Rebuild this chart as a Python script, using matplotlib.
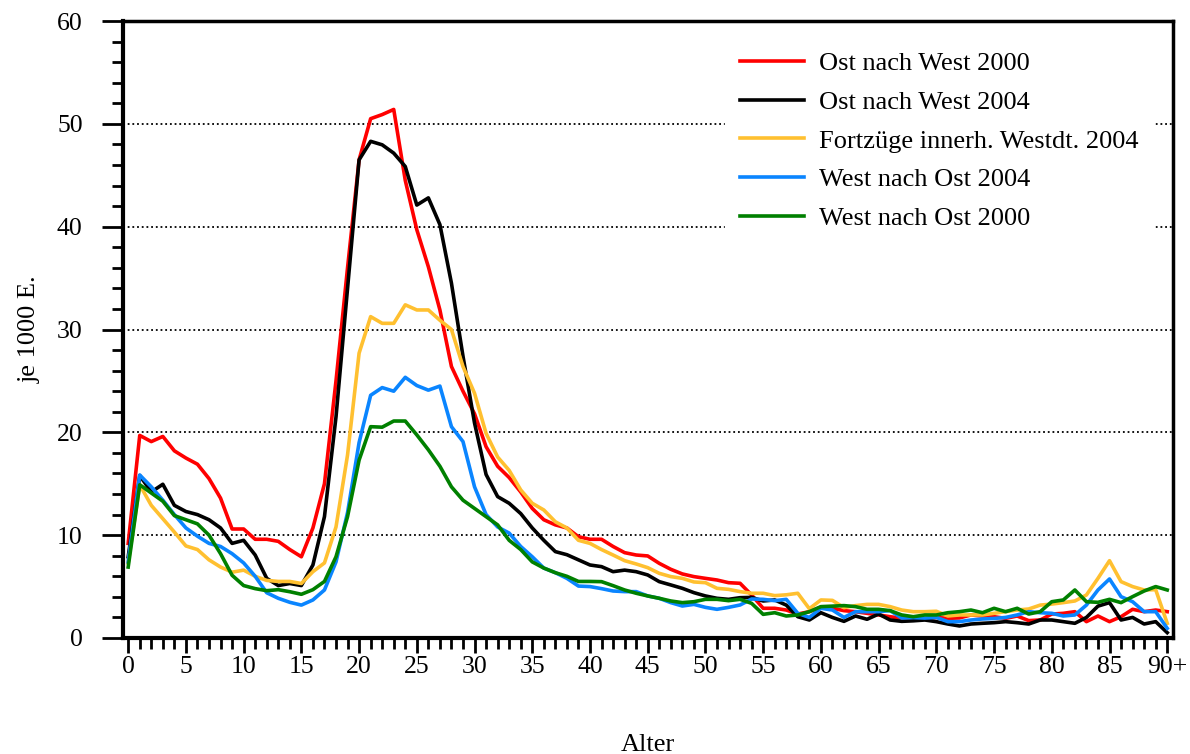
import matplotlib
matplotlib.use("Agg")
import matplotlib.pyplot as plt
import numpy as np

plt.rcParams['font.family'] = ['Liberation Serif', 'DejaVu Serif']

ages = list(range(0, 91))

ost_west_2000 = [9.2, 19.7, 19.1, 19.6, 18.2, 17.5, 16.9, 15.5, 13.6, 10.6,
                 10.6, 9.6, 9.6, 9.4, 8.6, 7.9, 10.7, 15.0, 25.0, 36.0,
                 46.5, 50.5, 50.9, 51.4, 44.5, 39.7, 36.1, 31.9, 26.4, 24.0,
                 21.8, 18.6, 16.7, 15.6, 14.2, 12.6, 11.5, 11.0, 10.7, 9.85,
                 9.6, 9.6, 8.9, 8.3, 8.07, 7.98, 7.26, 6.68, 6.23, 5.97,
                 5.8, 5.64, 5.38, 5.32, 4.18, 2.89, 2.89, 2.72, 2.33, 2.56,
                 3.0, 2.89, 2.66, 2.56, 2.4, 2.24, 2.07, 1.91, 1.85, 1.82,
                 2.0, 1.91, 1.95, 2.24, 2.14, 2.07, 1.91, 2.14, 1.69, 1.75,
                 2.33, 2.4, 2.56, 1.59, 2.14, 1.59, 2.07, 2.79, 2.56, 2.72,
                 2.56]

ost_west_2004 = [7.9, 15.8, 14.2, 14.95, 12.9, 12.3, 12.0, 11.5, 10.7, 9.2,
                 9.5, 8.07, 5.8, 5.1, 5.3, 5.1, 7.1, 11.8, 21.5, 34.0,
                 46.5, 48.3, 47.96, 47.15, 45.85, 42.1, 42.8, 40.2, 34.5, 27.4,
                 20.9, 15.9, 13.75, 13.1, 12.1, 10.7, 9.5, 8.4, 8.1, 7.6,
                 7.1, 6.94, 6.45, 6.6, 6.45, 6.13, 5.48, 5.16, 4.83, 4.41,
                 4.09, 3.86, 3.76, 3.92, 3.95, 3.6, 3.7, 3.2, 2.07, 1.75,
                 2.46, 2.0, 1.62, 2.14, 1.82, 2.33, 1.75, 1.62, 1.67, 1.75,
                 1.59, 1.36, 1.17, 1.36, 1.43, 1.49, 1.59, 1.49, 1.36, 1.75,
                 1.75, 1.59, 1.43, 2.0, 3.1, 3.44, 1.75, 2.0, 1.36, 1.59,
                 0.52]

fortzuege_west_2004 = [7.3, 14.9, 12.9, 11.6, 10.3, 8.95, 8.6, 7.6, 6.9, 6.4,
                       6.6, 6.0, 5.6, 5.5, 5.5, 5.3, 6.45, 7.3, 10.8, 17.8,
                       27.7, 31.25, 30.6, 30.6, 32.4, 31.9, 31.9, 30.9, 30.0, 26.4,
                       23.8, 19.9, 17.6, 16.3, 14.4, 13.1, 12.45, 11.3, 10.7, 9.5,
                       9.2, 8.6, 8.07, 7.52, 7.2, 6.84, 6.29, 5.97, 5.8, 5.45,
                       5.38, 4.83, 4.73, 4.51, 4.35, 4.35, 4.12, 4.2, 4.35, 2.85,
                       3.7, 3.66, 2.95, 3.15, 3.27, 3.27, 3.05, 2.72, 2.56, 2.56,
                       2.6, 2.14, 2.24, 2.24, 2.24, 2.4, 2.56, 2.72, 2.82, 3.2,
                       3.3, 3.44, 3.6, 4.18, 5.8, 7.52, 5.48, 5.0, 4.67, 4.7,
                       1.43]

west_ost_2004 = [7.4, 15.85, 14.7, 13.4, 12.0, 10.7, 9.9, 9.2, 8.9, 8.2,
                 7.3, 6.0, 4.4, 3.86, 3.47, 3.2, 3.7, 4.67, 7.4, 12.2,
                 19.0, 23.6, 24.35, 24.0, 25.35, 24.55, 24.1, 24.5, 20.55, 19.1,
                 14.7, 12.0, 10.8, 10.2, 8.9, 7.9, 6.8, 6.35, 5.8, 5.05,
                 5.0, 4.8, 4.57, 4.51, 4.51, 4.09, 3.86, 3.44, 3.11, 3.27,
                 2.98, 2.79, 2.98, 3.21, 3.79, 3.76, 3.63, 3.76, 2.4, 2.0,
                 2.89, 2.72, 2.0, 2.56, 2.56, 2.56, 2.66, 1.94, 1.98, 1.94,
                 2.0, 1.59, 1.59, 1.75, 1.85, 1.9, 2.0, 2.24, 2.56, 2.46,
                 2.4, 2.14, 2.24, 3.2, 4.67, 5.74, 4.02, 3.53, 2.56, 2.56,
                 0.94]

west_ost_2000 = [6.9, 14.9, 14.1, 13.3, 11.9, 11.5, 11.1, 10.0, 8.2, 6.1,
                 5.1, 4.8, 4.6, 4.7, 4.5, 4.25, 4.7, 5.5, 7.9, 11.8,
                 17.3, 20.55, 20.5, 21.1, 21.1, 19.75, 18.3, 16.7, 14.7, 13.4,
                 12.6, 11.8, 11.0, 9.5, 8.6, 7.4, 6.8, 6.35, 6.0, 5.5,
                 5.5, 5.48, 5.09, 4.67, 4.35, 4.09, 3.86, 3.6, 3.44, 3.53,
                 3.76, 3.76, 3.63, 3.76, 3.37, 2.3, 2.46, 2.14, 2.24, 2.56,
                 3.05, 3.1, 3.15, 3.05, 2.79, 2.79, 2.66, 2.24, 2.07, 2.24,
                 2.24, 2.46, 2.56, 2.72, 2.46, 2.89, 2.56, 2.89, 2.33, 2.56,
                 3.53, 3.7, 4.67, 3.53, 3.47, 3.76, 3.44, 4.02, 4.57, 5.0,
                 4.67]

series_labels = ["Ost nach West 2000", "Ost nach West 2004",
                 "Fortzüge innerh. Westdt. 2004", "West nach Ost 2004",
                 "West nach Ost 2000"]
series_colors = ["#FF0000", "#000000", "#FFC030", "#0A85FF", "#008000"]

xtick_pos = list(range(0, 91, 5))
xtick_labels = [str(v) for v in range(0, 90, 5)] + ["90+"]

fig = plt.figure(figsize=(11.9, 7.54), dpi=100)
ax = fig.add_axes([123/1190, 1 - 638/754, (1173-123)/1190, (638-21)/754])

data = [ost_west_2000, ost_west_2004, fortzuege_west_2004, west_ost_2004, west_ost_2000]
for vals, lab, col in zip(data, series_labels, series_colors):
    ax.plot(ages, vals, color=col, lw=2.6, label=lab, solid_joinstyle='round')

ax.set_xlim(-0.45, 90.5)
ax.set_ylim(0, 60)

for yv in range(10, 60, 10):
    ax.axhline(yv, color='black', lw=1.3, ls=(0, (1, 1.6)), zorder=0)

ax.set_yticks(range(0, 61, 10))
ax.set_yticks(range(0, 61, 2), minor=True)
ax.set_xticks(xtick_pos)
ax.set_xticklabels(xtick_labels)
ax.set_xticks(ages, minor=True)

ax.tick_params(axis='y', which='major', length=15, width=2, pad=14, labelsize=18.5)
ax.tick_params(axis='y', which='minor', length=8, width=2)
ax.tick_params(axis='x', which='major', length=11, width=2, pad=2, labelsize=18.5)
ax.tick_params(axis='x', which='minor', length=8, width=2)

for s in ax.spines.values():
    s.set_linewidth(2.5)
ax.spines['left'].set_linewidth(3)
ax.spines['bottom'].set_linewidth(3)

ax.set_xlabel("Alter", fontsize=19, labelpad=40)
ax.set_ylabel("je 1000 E.", fontsize=19, labelpad=12)

leg = ax.legend(loc='upper left', bbox_to_anchor=(0.573, 0.976), borderaxespad=0,
                fontsize=19, handlelength=2.4, handletextpad=0.57, labelspacing=0.58,
                frameon=True, framealpha=1.0, edgecolor='white', fancybox=False,
                borderpad=0.6)
for ln in leg.get_lines():
    ln.set_linewidth(2.6)

fig.savefig("out.png", dpi=100)
